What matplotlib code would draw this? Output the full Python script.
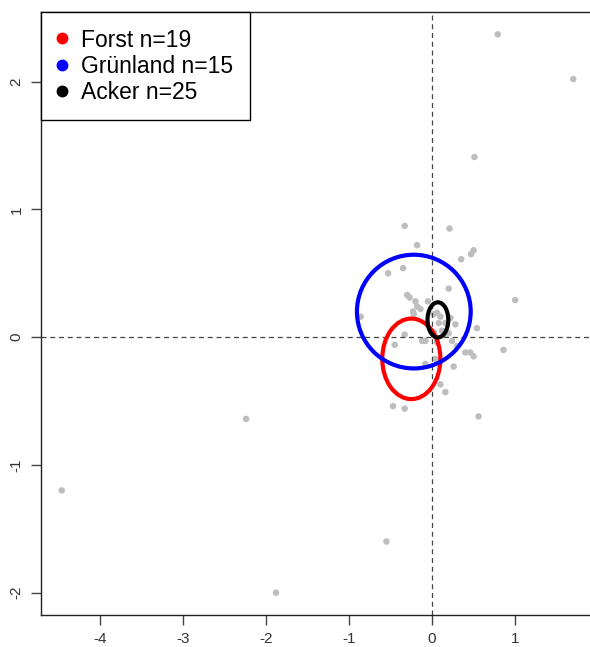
import matplotlib
matplotlib.use("Agg")
import matplotlib.pyplot as plt
from matplotlib.patches import Ellipse
from matplotlib.lines import Line2D

plt.rcParams['font.family'] = ['Liberation Sans', 'DejaVu Sans']
plt.rcParams['axes.unicode_minus'] = False

# site scores (all drawn grey)
site_x = [0.79, 1.70, 0.51, -4.46, -2.24, -1.88, -0.55, 1.00, 0.86, 0.56,
          -0.33, 0.21, -0.18, 0.50, 0.47, 0.35, -0.53, -0.35, 0.20, -0.30,
          -0.27, -0.18, -0.14, -0.22, -0.86, 0.06, 0.10, 0.08, 0.22, 0.28,
          0.54, -0.33, 0.02, 0.16, 0.20, 0.24, -0.12, -0.08, 0.06, -0.45,
          0.40, 0.46, 0.50, -0.08, 0.04, 0.26, 0.10, 0.16, -0.47, -0.33,
          0.16, 0.02, -0.23, 0.12, -0.05, 0.30, -0.20]
site_y = [2.37, 2.02, 1.41, -1.20, -0.64, -2.00, -1.60, 0.29, -0.10, -0.62,
          0.87, 0.85, 0.72, 0.68, 0.65, 0.61, 0.50, 0.54, 0.38, 0.33,
          0.31, 0.24, 0.22, 0.18, 0.16, 0.19, 0.16, 0.11, 0.15, 0.10,
          0.07, 0.02, 0.04, 0.02, 0.03, -0.03, -0.03, -0.03, -0.04, -0.06,
          -0.12, -0.12, -0.15, -0.21, -0.17, -0.23, -0.37, -0.43, -0.54, -0.56,
          0.11, 0.18, 0.20, 0.05, 0.28, -0.07, 0.28]

# group ellipses
groups = ["Forst n=19", "Grünland n=15", "Acker n=25"]
group_colors = ["red", "blue", "black"]
ell_cx = [-0.25, -0.22, 0.07]
ell_cy = [-0.17, 0.20, 0.135]
ell_w = [0.70, 1.37, 0.25]
ell_h = [0.63, 0.89, 0.275]

fig = plt.figure(figsize=(5.9, 6.47), dpi=100)
ax = fig.add_axes([41 / 590, 32 / 647, 553 / 590, 603 / 647])

ax.scatter(site_x, site_y, s=22, color="#bebebe", edgecolors="none", zorder=2)
ax.axhline(0, color="#444444", lw=0.9, ls=(0, (4, 3)), zorder=3)
ax.axvline(0, color="#444444", lw=0.9, ls=(0, (4, 3)), zorder=3)

for cx, cy, w, h, c in zip(ell_cx, ell_cy, ell_w, ell_h, group_colors):
    ax.add_patch(Ellipse((cx, cy), w, h, fill=False, edgecolor=c, lw=3, zorder=4))

ax.set_xlim(-4.71, 1.95)
ax.set_ylim(-2.175, 2.545)
ax.set_xticks([-4, -3, -2, -1, 0, 1])
ax.set_yticks([-2, -1, 0, 1, 2])
for s in ax.spines.values():
    s.set_linewidth(1.0)
    s.set_color("#222222")
ax.tick_params(direction="out", length=7.5, width=1.0, color="#444444",
               labelsize=11, labelcolor="#333333", pad=5)
plt.setp(ax.get_yticklabels(), rotation=90, va="center")

handles = [Line2D([], [], marker="o", ls="none", color=c, markersize=7.5)
           for c in group_colors]
leg = ax.legend(handles, groups, loc="upper left", fontsize=16.5,
                frameon=True, fancybox=False, edgecolor="black", framealpha=1,
                borderaxespad=0, borderpad=0.72, handletextpad=0.62,
                labelspacing=0.14, handlelength=0.4)
leg.get_frame().set_linewidth(1.0)

fig.savefig("out.png", dpi=100)
